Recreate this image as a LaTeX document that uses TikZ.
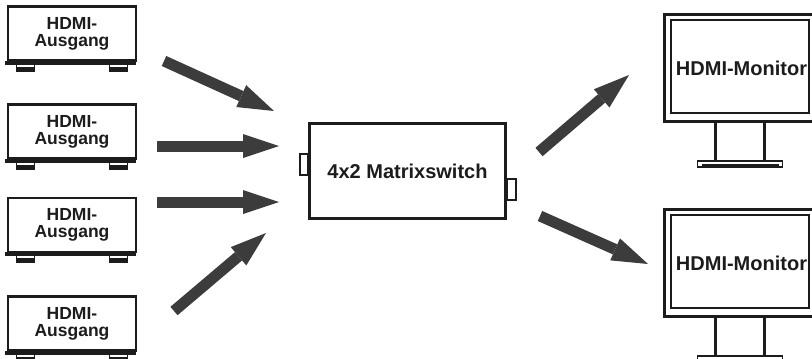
\documentclass[tikz,border=0pt]{standalone}
\usepackage{fontspec}
\setmainfont{Liberation Sans}
\usetikzlibrary{arrows.meta}
\definecolor{arrowgray}{HTML}{3C3C3C}
\definecolor{inkc}{HTML}{1C1C1C}
\begin{document}
\begin{tikzpicture}[x=1pt,y=-1pt,
  srcbox/.style={draw=inkc, line width=2.6pt, minimum width=128pt, minimum height=54pt, inner sep=0pt, align=center, text=inkc, font=\bfseries\fontsize{17.5}{17}\selectfont},
  switchbox/.style={draw=inkc, line width=3pt, minimum width=196pt, minimum height=95pt, inner sep=0pt, text=inkc, font=\bfseries\fontsize{20}{22}\selectfont},
  screen/.style={draw=inkc, line width=3pt, minimum width=154pt, minimum height=107pt, inner sep=0pt, text=inkc, font=\bfseries\fontsize{20}{22}\selectfont},
  foot/.style={draw=inkc, line width=1.4pt},
  tab/.style={draw=inkc, line width=2.2pt},
  bigarrow/.style={draw=arrowgray, fill=arrowgray, line width=11pt, -{Triangle[length=36pt,width=24pt,line width=0pt]}},
]
\useasboundingbox (0,0) rectangle (812,359);
\fill[white] (0,0) rectangle (812,359);

% source devices
\foreach \n/\y in {s1/33.5, s2/131.5, s3/225, s4/323.5} {
  \node[srcbox] (\n) at (72,\y) {HDMI-\\Ausgang};
  \draw[inkc, line width=4pt] (\n.south west) ++(-1.3,0.7) -- ++(130.6,0);
  \draw[foot] (\n.south west) ++(10,2) rectangle ++(18,7);
  \fill[inkc] (\n.south west) ++(10,5) rectangle ++(18,4);
  \draw[foot] (\n.south east) ++(-10,2) rectangle ++(-18,7);
  \fill[inkc] (\n.south east) ++(-10,5) rectangle ++(-18,4);
}

% matrix switch
\node[switchbox] (sw) at (407.5,171) {4x2 Matrixswitch};
\draw[tab] (sw.west) ++(-8,-17) rectangle ++(8,21);
\draw[tab] (sw.east) ++(0,8) rectangle ++(9,21);

% monitors
\foreach \n/\y in {m1/68, m2/263} {
  \node[screen] (\n) at (741.5,\y) {HDMI-Monitor};
  \draw[inkc, line width=2pt] (\n.north west) ++(8,7) rectangle ++(138,93);
  \draw[inkc, line width=3.5pt] (\n.south west) ++(52.5,0) -- ++(0,38);
  \draw[inkc, line width=3.5pt] (\n.south west) ++(101.5,0) -- ++(0,38);
  \draw[inkc, line width=1.2pt] (\n.south west) ++(34.5,38) rectangle ++(85,6);
  \fill[inkc] (\n.south west) ++(38.5,40.5) rectangle ++(77,4.5);
}

% arrows
\coordinate (t1) at (164,61);  \coordinate (h1) at (274,111);
\coordinate (t2) at (157,146); \coordinate (h2) at (279,146);
\coordinate (t3) at (157,202); \coordinate (h3) at (279,202);
\coordinate (t4) at (174,311); \coordinate (h4) at (266,233);
\coordinate (t5) at (539,152); \coordinate (h5) at (629,75);
\coordinate (t6) at (540,216); \coordinate (h6) at (648,264);
\foreach \i in {1,...,6} {
  \draw[bigarrow] (t\i) -- (h\i);
}
\end{tikzpicture}
\end{document}
